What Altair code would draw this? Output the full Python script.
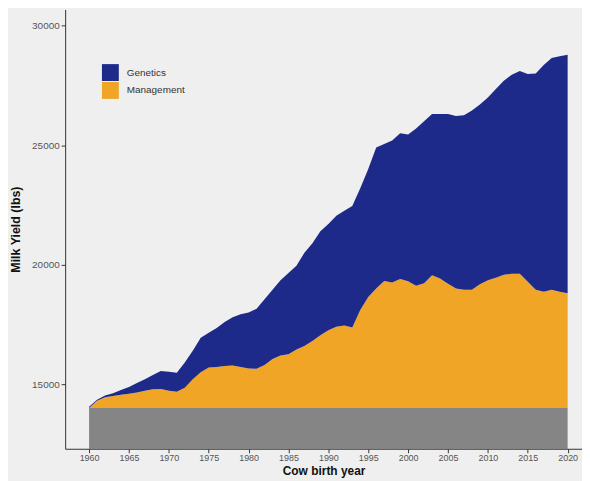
import altair as alt
import pandas as pd

years = list(range(1960, 2021))

total = [14050, 14350, 14520, 14620, 14750, 14880, 15050, 15200, 15380, 15550,
         15520, 15480, 15900, 16400, 16940, 17150, 17350, 17600, 17800, 17920,
         18000, 18150, 18550, 18950, 19350, 19650, 19950, 20500, 20900, 21400,
         21700, 22050, 22250, 22450, 23200, 24000, 24900, 25050, 25200, 25500,
         25450, 25700, 26000, 26300, 26300, 26300, 26220, 26250, 26450, 26700,
         27000, 27350, 27700, 27950, 28100, 27980, 28000, 28350, 28650, 28720,
         28780]

management = [14000, 14300, 14450, 14500, 14550, 14600, 14650, 14720, 14780, 14800,
              14720, 14680, 14850, 15200, 15500, 15700, 15720, 15760, 15780, 15720,
              15650, 15640, 15800, 16050, 16200, 16250, 16450, 16600, 16800, 17050,
              17250, 17400, 17450, 17370, 18100, 18650, 19000, 19320, 19250, 19400,
              19300, 19120, 19220, 19560, 19420, 19200, 19000, 18950, 18950, 19180,
              19350, 19450, 19580, 19620, 19620, 19280, 18950, 18870, 18950, 18870,
              18800]

base_level = 14000
series = ["Genetics", "Management"]
series_colors = ["#1e2a8a", "#f0a526"]
x_ticks = list(range(1960, 2021, 5))
y_ticks = [15000, 20000, 25000, 30000]

df = pd.DataFrame({
    "year": years,
    "total": total,
    "management": management,
    "base": [base_level] * len(years),
})

FONT = "Liberation Sans"
PLOT_W = 520
PLOT_H = 442

xscale = alt.Scale(domain=[1957, 2021.8], nice=False, zero=False)
yscale = alt.Scale(domain=[12294, 30680], nice=False, zero=False)

xaxis = alt.Axis(values=x_ticks, format="d", title="Cow birth year", grid=False,
                 domainColor="#333333", tickColor="#333333", tickSize=4,
                 labelColor="#555555", labelFontSize=9, labelPadding=1,
                 titleFontSize=12, titleFontWeight="bold", titleColor="#111111",
                 titlePadding=3, labelFont=FONT, titleFont=FONT, zindex=1)
yaxis = alt.Axis(values=y_ticks, format="d", title="Milk Yield (lbs)", grid=False,
                 domainColor="#333333", tickColor="#333333", tickSize=4,
                 labelColor="#555555", labelFontSize=10, labelPadding=2,
                 titleFontSize=12.5, titleFontWeight="bold", titleColor="#111111",
                 titlePadding=9, labelFont=FONT, titleFont=FONT, zindex=1)

color = alt.Color(
    "series:N",
    scale=alt.Scale(domain=series, range=series_colors),
    legend=alt.Legend(orient="none", legendX=37, legendY=55, title=None,
                      symbolType="square", symbolSize=289, symbolStrokeWidth=0,
                      symbolOpacity=1, labelFontSize=10, labelColor="#333333",
                      labelFont=FONT, labelOffset=8, rowPadding=1, padding=0),
)

base = alt.Chart(df)

gray = base.mark_area(color="#858585", opacity=1, clip=True).encode(
    x=alt.X("year:Q", scale=xscale, axis=xaxis),
    y=alt.Y("base:Q", scale=yscale, axis=yaxis),
)

orange = base.transform_calculate(series="'Management'").mark_area(opacity=1).encode(
    x=alt.X("year:Q", scale=xscale),
    y=alt.Y("management:Q", scale=yscale),
    y2="base:Q",
    color=color,
)

blue = base.transform_calculate(series="'Genetics'").mark_area(opacity=1).encode(
    x=alt.X("year:Q", scale=xscale),
    y=alt.Y("total:Q", scale=yscale),
    y2="management:Q",
    color=color,
)

chart = alt.layer(gray, orange, blue).properties(
    width=PLOT_W,
    height=PLOT_H,
    autosize=alt.AutoSizeParams(type="none"),
    padding={"left": 57.5, "top": 0, "right": 0, "bottom": 35},
    background="#efefef",
).configure_view(stroke=None)

chart.save("out.html", embed_options={"renderer": "svg", "actions": False})
